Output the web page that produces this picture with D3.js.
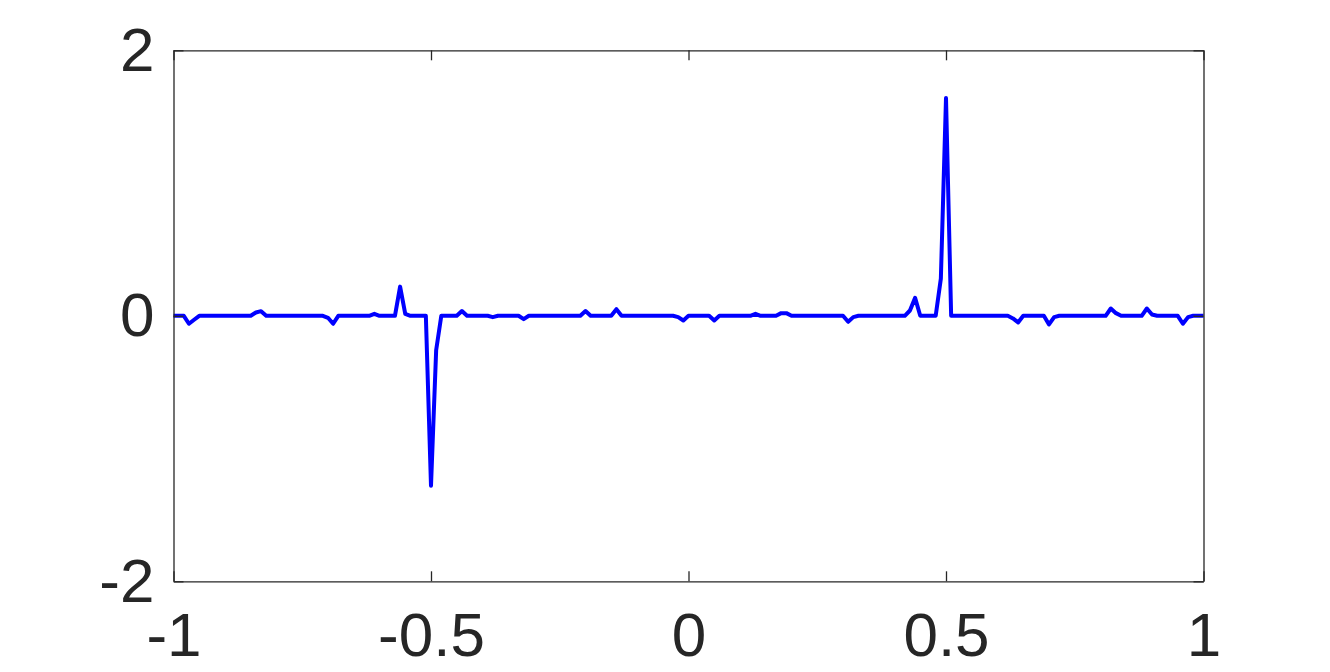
<!DOCTYPE html>
<html>
<head>
  <meta charset="UTF-8">
  <style>
body{
    margin: 0;
    background: #fff;
}
.tick text{
    font-family: "Liberation Sans", Arial, sans-serif;
    font-size: 62px;
    fill: #262626;
}
  </style>
</head>
<body>
<svg></svg>

<script src="https://d3js.org/d3.v7.min.js"></script>

<script>

// x grid of the signal
let xValues = [
  -1,-0.99,-0.98,-0.97,-0.96,-0.95,-0.94,-0.93,-0.92,-0.91,-0.9,-0.89,-0.88,-0.87,-0.86,-0.85,-0.84,-0.83,-0.82,-0.81,
  -0.8,-0.79,-0.78,-0.77,-0.76,-0.75,-0.74,-0.73,-0.72,-0.71,-0.7,-0.69,-0.68,-0.67,-0.66,-0.65,-0.64,-0.63,-0.62,-0.61,
  -0.6,-0.59,-0.58,-0.57,-0.56,-0.55,-0.54,-0.53,-0.52,-0.51,-0.5,-0.49,-0.48,-0.47,-0.46,-0.45,-0.44,-0.43,-0.42,-0.41,
  -0.4,-0.39,-0.38,-0.37,-0.36,-0.35,-0.34,-0.33,-0.32,-0.31,-0.3,-0.29,-0.28,-0.27,-0.26,-0.25,-0.24,-0.23,-0.22,-0.21,
  -0.2,-0.19,-0.18,-0.17,-0.16,-0.15,-0.14,-0.13,-0.12,-0.11,-0.1,-0.09,-0.08,-0.07,-0.06,-0.05,-0.04,-0.03,-0.02,-0.01,
  0,0.01,0.02,0.03,0.04,0.05,0.06,0.07,0.08,0.09,0.1,0.11,0.12,0.13,0.14,0.15,0.16,0.17,0.18,0.19,
  0.2,0.21,0.22,0.23,0.24,0.25,0.26,0.27,0.28,0.29,0.3,0.31,0.32,0.33,0.34,0.35,0.36,0.37,0.38,0.39,
  0.4,0.41,0.42,0.43,0.44,0.45,0.46,0.47,0.48,0.49,0.5,0.51,0.52,0.53,0.54,0.55,0.56,0.57,0.58,0.59,
  0.6,0.61,0.62,0.63,0.64,0.65,0.66,0.67,0.68,0.69,0.7,0.71,0.72,0.73,0.74,0.75,0.76,0.77,0.78,0.79,
  0.8,0.81,0.82,0.83,0.84,0.85,0.86,0.87,0.88,0.89,0.9,0.91,0.92,0.93,0.94,0.95,0.96,0.97,0.98,0.99,
  1
]

// signal values
let yValues = [
  0,0,0,-0.06,-0.03,0,0,0,0,0,0,0,0,0,0,0,0.025,0.035,0,0,
  0,0,0,0,0,0,0,0,0,0,-0.015,-0.06,0,0,0,0,0,0,0,0.015,
  0,0,0,0,0.22,0.015,0,0,0,0,-1.28,-0.26,0,0,0,0,0.036,0,0,0,
  0,0,-0.01,0,0,0,0,0,-0.025,0,0,0,0,0,0,0,0,0,0,0,
  0.036,0,0,0,0,0,0.05,0,0,0,0,0,0,0,0,0,0,0,-0.01,-0.035,
  0,0,0,0,0,-0.035,0,0,0,0,0,0,0,0.015,0,0,0,0,0.02,0.02,
  0,0,0,0,0,0,0,0,0,0,0,-0.045,-0.01,0,0,0,0,0,0,0,
  0,0,0,0.04,0.135,0,0,0,0,0.28,1.64,0,0,0,0,0,0,0,0,0,
  0,0,0,-0.02,-0.05,0,0,0,0,0,-0.065,-0.01,0,0,0,0,0,0,0,0,
  0,0,0.055,0.02,0,0,0,0,0,0.055,0.01,0,0,0,0,0,-0.06,-0.01,0,0,
  0
]

let xTicks = [-1, -0.5, 0, 0.5, 1]
let yTicks = [-2, 0, 2]

let width = 1330, height = 672;
let plotLeft = 173.5, plotRight = 1203.5, plotTop = 50.3, plotBottom = 581.3;

let svg = d3.select("svg")
    .attr("width", width)
    .attr("height", height)

svg.append("rect")
    .attr("width", width)
    .attr("height", height)
    .attr("fill", "#fff")

let x = d3.scaleLinear().domain([-1, 1]).range([plotLeft, plotRight])
let y = d3.scaleLinear().domain([-2, 2]).range([plotBottom, plotTop])

let points = xValues.map((v, i) => [v, yValues[i]])

let line = d3.line()
    .x(d => x(d[0]))
    .y(d => y(d[1]))

svg.append("path")
    .datum(points)
    .attr("fill", "none")
    .attr("stroke", "#0000ff")
    .attr("stroke-width", 4)
    .attr("stroke-linejoin", "round")
    .attr("d", line)

let fmt = d => String(d)

// bottom axis with labels, ticks inward
svg.append("g")
    .attr("transform", "translate(0," + plotBottom + ")")
    .call(d3.axisBottom(x).tickValues(xTicks).tickFormat(fmt).tickSize(-10).tickSizeOuter(0).tickPadding(31))

svg.append("g")
    .attr("transform", "translate(" + plotLeft + ",0)")
    .call(d3.axisLeft(y).tickValues(yTicks).tickFormat(fmt).tickSize(-10).tickSizeOuter(0).tickPadding(19))

// box: top and right
svg.append("g")
    .attr("transform", "translate(0," + plotTop + ")")
    .call(d3.axisTop(x).tickValues(xTicks).tickFormat("").tickSize(-10).tickSizeOuter(0))

svg.append("g")
    .attr("transform", "translate(" + plotRight + ",0)")
    .call(d3.axisRight(y).tickValues(yTicks).tickFormat("").tickSize(-10).tickSizeOuter(0))

svg.selectAll(".domain, .tick line")
    .attr("stroke", "#262626")
    .attr("stroke-width", 1.3)

</script>
</body>
</html>
